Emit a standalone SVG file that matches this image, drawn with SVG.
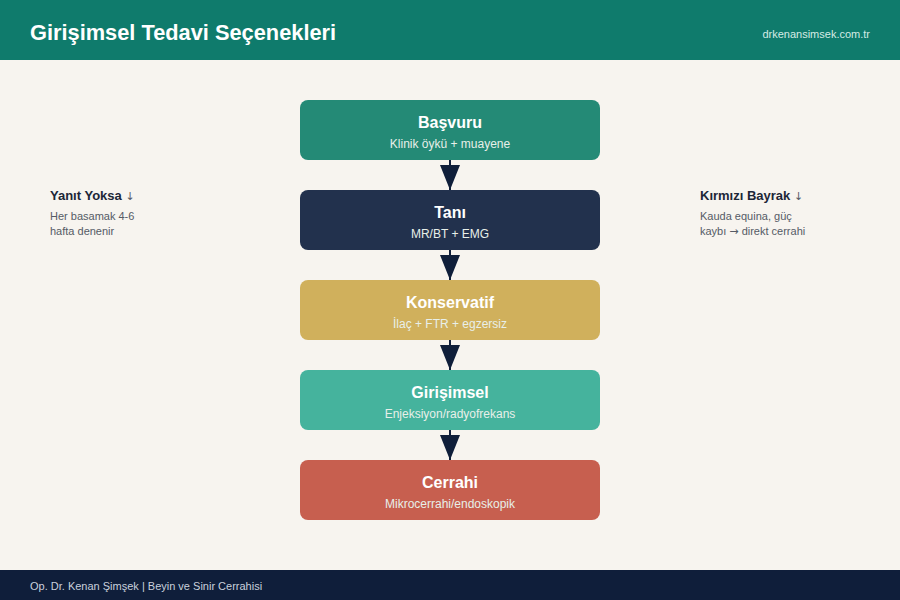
<svg xmlns="http://www.w3.org/2000/svg" width="900" height="600" viewBox="0 0 900 600">
<style>
text{font-family:"Liberation Sans",Arial,sans-serif}
.t{font-size:16px;font-weight:bold;fill:#fff;text-anchor:middle}
.s{font-size:12px;fill:#e8efe9;text-anchor:middle}
.lh{font-size:13px;font-weight:bold;fill:#1c2637}
.ar{font-family:"DejaVu Sans",sans-serif;font-weight:normal;font-size:11px;fill:#555b66}
.ls{font-size:11px;fill:#555b66}
.conn line{stroke:#0f1e3a;stroke-width:2}
</style>
<defs>
<marker id="ah" viewBox="0 0 25 20" refX="25" refY="10" markerWidth="25" markerHeight="20" markerUnits="userSpaceOnUse" orient="auto">
<path d="M0,0 L25,10 L0,20 Z" fill="#0f1e3a"/>
</marker>
</defs>
<rect x="0" y="0" width="900" height="600" fill="#f7f4ef"/>
<g id="header">
<rect x="0" y="0" width="900" height="60" fill="#0f7b6c"/>
<text x="30" y="40" font-size="21.8" font-weight="bold" fill="#fff">Girişimsel Tedavi Seçenekleri</text>
<text x="870" y="38" font-size="11" fill="#d5ebe5" text-anchor="end">drkenansimsek.com.tr</text>
</g>
<g class="conn" id="connectors">
<line x1="450" y1="160" x2="450" y2="190" marker-end="url(#ah)"/>
<line x1="450" y1="250" x2="450" y2="280" marker-end="url(#ah)"/>
<line x1="450" y1="340" x2="450" y2="370" marker-end="url(#ah)"/>
<line x1="450" y1="430" x2="450" y2="460" marker-end="url(#ah)"/>
</g>
<g id="basvuru">
<rect x="300" y="100" width="300" height="60" rx="8" fill="#248a76"/>
<text class="t" x="450" y="128">Başvuru</text>
<text class="s" x="450" y="148">Klinik öykü + muayene</text>
</g>
<g id="tani">
<rect x="300" y="190" width="300" height="60" rx="8" fill="#22314d"/>
<text class="t" x="450" y="218">Tanı</text>
<text class="s" x="450" y="238">MR/BT + EMG</text>
</g>
<g id="konservatif">
<rect x="300" y="280" width="300" height="60" rx="8" fill="#d0b05c"/>
<text class="t" x="450" y="308">Konservatif</text>
<text class="s" x="450" y="328">İlaç + FTR + egzersiz</text>
</g>
<g id="girisimsel">
<rect x="300" y="370" width="300" height="60" rx="8" fill="#45b39d"/>
<text class="t" x="450" y="398">Girişimsel</text>
<text class="s" x="450" y="418">Enjeksiyon/radyofrekans</text>
</g>
<g id="cerrahi">
<rect x="300" y="460" width="300" height="60" rx="8" fill="#c75f4f"/>
<text class="t" x="450" y="488">Cerrahi</text>
<text class="s" x="450" y="508">Mikrocerrahi/endoskopik</text>
</g>
<g id="yanit-yoksa">
<text class="lh" x="50" y="200">Yanıt Yoksa <tspan class="ar">↓</tspan></text>
<text class="ls" x="50" y="220">Her basamak 4-6</text>
<text class="ls" x="50" y="235">hafta denenir</text>
</g>
<g id="kirmizi-bayrak">
<text class="lh" x="700" y="200">Kırmızı Bayrak <tspan class="ar">↓</tspan></text>
<text class="ls" x="700" y="220">Kauda equina, güç</text>
<text class="ls" x="700" y="235">kaybı <tspan class="ar">→</tspan> direkt cerrahi</text>
</g>
<g id="footer">
<rect x="0" y="570" width="900" height="30" fill="#0f1e3a"/>
<text x="30" y="590" font-size="11" fill="#c9d0dc">Op. Dr. Kenan Şimşek | Beyin ve Sinir Cerrahisi</text>
</g>
</svg>
